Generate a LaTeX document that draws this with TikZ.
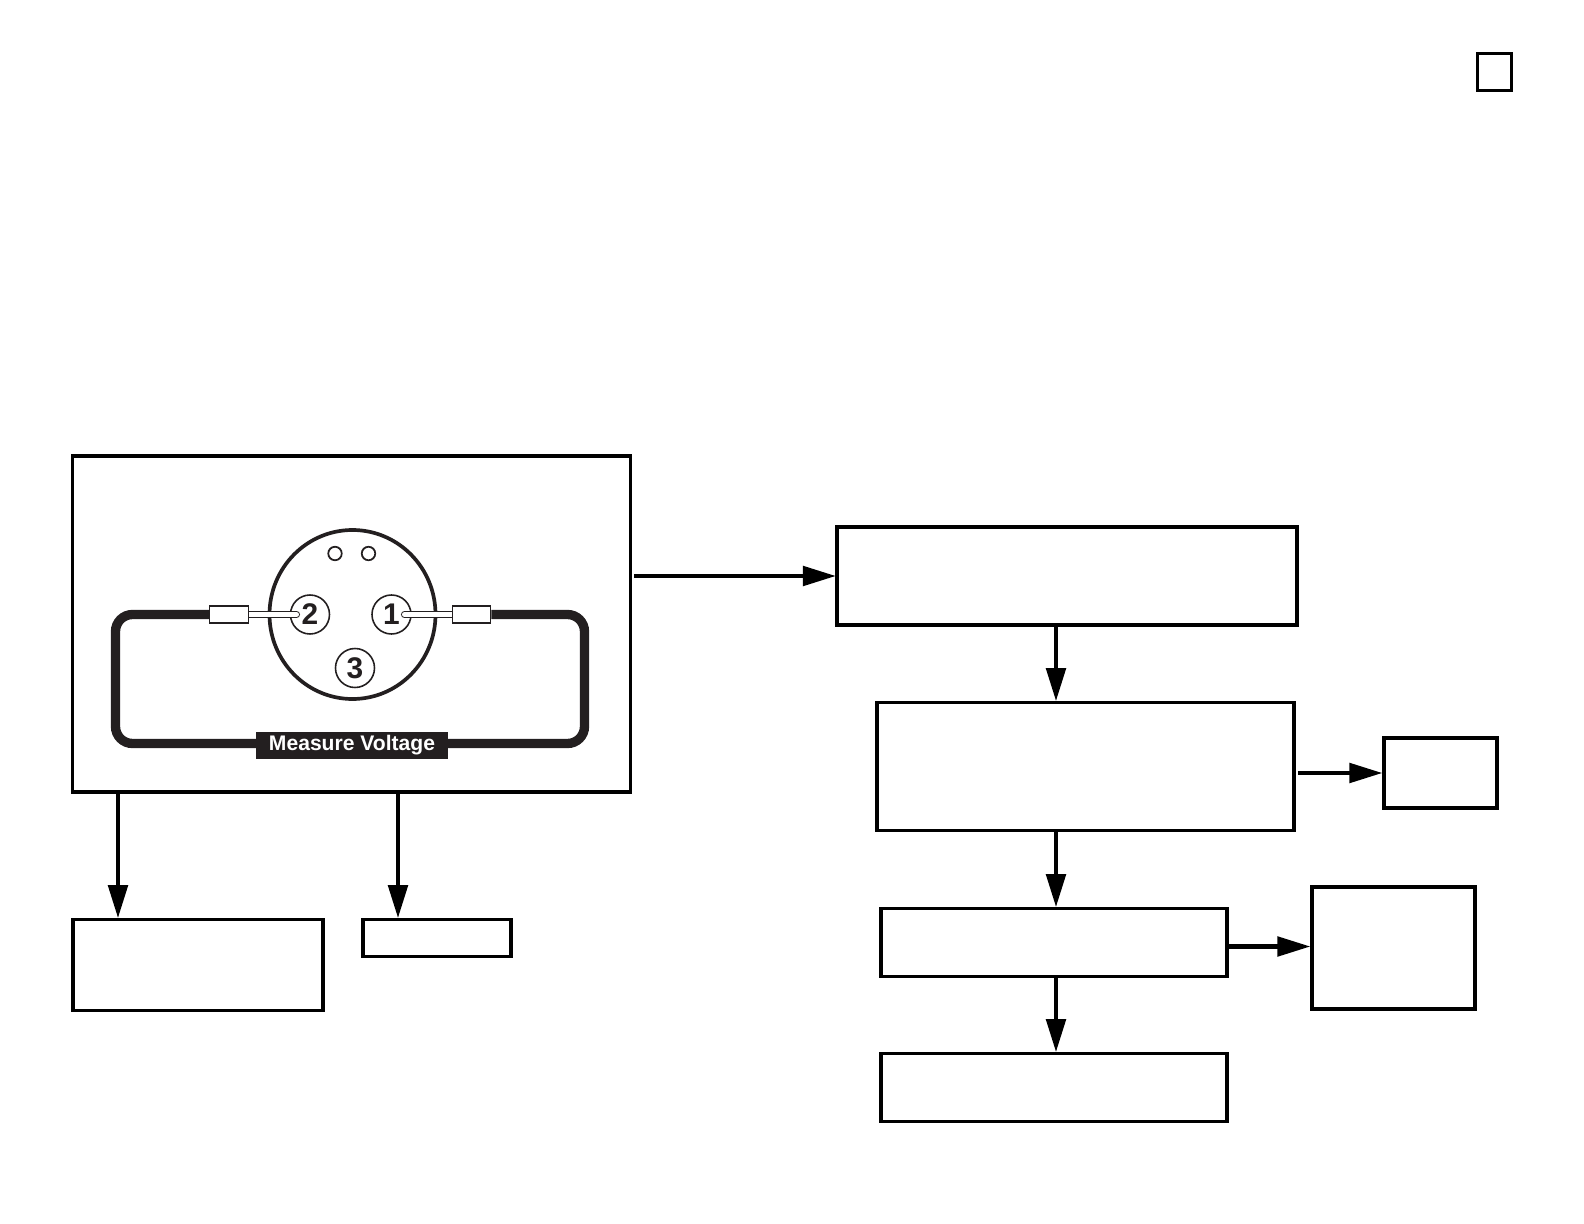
\documentclass[tikz,border=0pt]{standalone}
\usepackage{fontspec}
\setmainfont{Liberation Sans}
\usetikzlibrary{arrows.meta,shapes.geometric}
\usepackage{xcolor}
\definecolor{wireblack}{HTML}{231F20}
\tikzset{
    stepbox/.style={
        draw=black,line width=2.2pt,fill=white,inner sep=0pt
    },
    arrow/.style={
        -{Triangle[length=18.7pt,width=11pt]},line width=2.3pt,draw=black,shorten >=-.3pt
    },
    pin/.style={
        circle,draw=wireblack,line width=.9pt,fill=white,inner sep=0pt,
        minimum size=.78cm,font=\fontsize{17}{20}\selectfont\bfseries,text=wireblack
    },
    hole/.style={
        circle,draw=wireblack,line width=1pt,inner sep=0pt,minimum size=.27cm
    },
    plug/.style={
        draw=wireblack,line width=.7pt,fill=white,inner sep=0pt,
        minimum width=.77cm,minimum height=.34cm
    },
    probe/.style={
        draw=wireblack,line width=.55pt,double=white,double distance=2.9pt,line cap=round
    },
    cable/.style={
        draw=wireblack,line width=5.3pt,rounded corners=.34cm
    }
}
\begin{document}
\begin{tikzpicture}

\useasboundingbox (0,0) rectangle (31.68,-24.48);

\node[stepbox,line width=1.5pt,minimum width=.67cm,minimum height=.75cm]
(tick) at (29.89,-1.44){};

\node[stepbox,minimum width=11.16cm,minimum height=6.71cm]
(main) at (7.03,-12.48){};

\node[stepbox,minimum width=9.19cm,minimum height=1.96cm]
(open) at (21.34,-11.52){};

\node[stepbox,minimum width=8.35cm,minimum height=2.56cm]
(check) at (21.71,-15.33){};

\node[stepbox,minimum width=6.93cm,minimum height=1.36cm]
(verify) at (21.08,-18.85){};

\node[stepbox,minimum width=6.93cm,minimum height=1.36cm]
(repair) at (21.08,-21.75){};

\node[stepbox,minimum width=2.27cm,minimum height=1.41cm]
(side) at (28.81,-15.46){};

\node[stepbox,minimum width=3.27cm,minimum height=2.45cm]
(note) at (27.87,-18.96){};

\node[stepbox,minimum width=5.01cm,minimum height=1.82cm]
(low) at (3.96,-19.30){};

\node[stepbox,minimum width=2.97cm,minimum height=.74cm]
(high) at (8.74,-18.76){};

\coordinate (spine) at (21.12,0);
\coordinate (lowx) at (2.36,0);
\coordinate (highx) at (7.96,0);
\coordinate (notey) at (0,-18.93);

\draw[arrow,shorten <=1pt](main.east |- open.west)--(open.west);
\draw[arrow](open.south -| spine)--(check.north -| spine);
\draw[arrow](check.south -| spine)--(verify.north -| spine);
\draw[arrow](verify.south -| spine)--(repair.north -| spine);
\draw[arrow,shorten <=1pt](check.east |- side.west)--(side.west);
\draw[arrow](verify.east |- notey)--(note.west |- notey);
\draw[arrow](main.south -| lowx)--(low.north -| lowx);
\draw[arrow](main.south -| highx)--(high.north -| highx);

\node[ellipse,draw=wireblack,line width=2.1pt,inner sep=0pt,minimum width=3.32cm,minimum height=3.38cm]
(body) at (7.05,-12.29){};

\node[hole](holeL) at (6.70,-11.07){};
\node[hole](holeR) at (7.37,-11.07){};

\node[pin](pinB) at (6.20,-12.29){2};
\node[pin](pinA) at (7.83,-12.29){1};
\node[pin](pinC) at (7.10,-13.36){3};

\coordinate (sockL) at (4.58,-12.29);
\coordinate (sockR) at (9.43,-12.29);
\coordinate (tipL) at (5.93,-12.29);
\coordinate (tipR) at (8.09,-12.29);

\draw[probe](sockL)--(tipL);
\draw[probe](sockR)--(tipR);

\node[plug](plugL) at (sockL){};
\node[plug](plugR) at (sockR){};

\draw[cable](plugL.west)--(2.31,-12.29)--(2.31,-14.87)--(11.69,-14.87)--(11.69,-12.29)--(plugR.east);

\node[
fill=wireblack,text=white,inner sep=0pt,minimum width=3.84cm,minimum height=.53cm,
font=\fontsize{12}{14}\selectfont\bfseries
] (label) at (7.04,-14.91){Measure Voltage};

\end{tikzpicture}
\end{document}
